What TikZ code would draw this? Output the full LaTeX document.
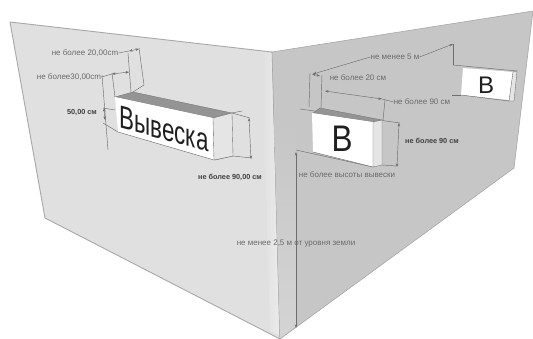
\documentclass[tikz,border=0pt]{standalone}
\usepackage{fontspec}
\setmainfont{Liberation Sans}
\usetikzlibrary{arrows.meta}
\definecolor{wallL}{HTML}{E0E0E0}
\definecolor{wallR}{HTML}{C6C6C6}
\definecolor{wallS}{HTML}{D4D4D4}
\definecolor{edgeC}{HTML}{A8A8A8}
\definecolor{dimC}{HTML}{6E6E6E}
\definecolor{labelC}{HTML}{6A6A6A}
\tikzset{
 wallL/.style={fill=wallL,draw=edgeC,line width=.9pt,line join=round},
 wallR/.style={fill=wallR,draw=edgeC,line width=.6pt,line join=round},
 dimline/.style={draw=dimC,line width=.45pt},
 dimarrow/.style={dimline,{Stealth[length=3.5pt,width=2.6pt]}-{Stealth[length=3.5pt,width=2.6pt]}},
 lab/.style={text=labelC,font=\fontsize{8}{9}\selectfont,inner sep=0pt},
 labdark/.style={text=black!75,font=\fontsize{7.3}{8}\selectfont\bfseries,inner sep=0pt},
 front/.style={fill=white,draw=none},
 side/.style={fill=white!90!black,draw=dimC,line width=.35pt},
 topface/.style={fill=black!42,draw=dimC,line width=.3pt},
 sign/.style={text=black!88,inner sep=0pt}
}
\begin{document}
\begin{tikzpicture}[x=1pt,y=-1pt]
\useasboundingbox (0,0) rectangle (533,339);
% walls
\path[wallL] (10,22) -- (272,52) -- (280,339) -- (45,218) -- cycle;
\shade[left color=wallL,right color=white!92!black] (262,52) -- (272,53) -- (279,335) -- (270,331) -- cycle;
\path[wallR] (272,52) -- (533,11) -- (514,168) -- (280,339) -- cycle;
\shade[top color=wallR,bottom color=wallS] (274,120) -- (296,120) -- (296,326) -- (280,338) -- cycle;
% LEFT SIGN
\draw[dimline] (102,75) -- (108,150);
\draw[dimline] (112,73) -- (115,97);
\draw[dimline] (128,53) -- (131,92);
\draw[dimline] (139,48) -- (144,85) -- (133,92);
\draw[dimline] (103,108) -- (115,110);
\draw[dimline] (103,123) -- (118,132);
\draw[dimline] (232,113) -- (242,111);
\draw[dimline] (232,113) -- (250,118);
\draw[dimline] (215,160) -- (233,156) -- (252,158);
\path[topface] (115,97) -- (133,92) -- (232,113) -- (213,118) -- cycle;
\path[front] (115,97) -- (213,118) -- (214,160) -- (118,132) -- cycle;
\draw[dimC,line width=.45pt] (118,132) -- (214,160);
\path[side] (213,118) -- (232,113) -- (233,156) -- (214,160) -- cycle;
\begin{scope}[shift={(164,129)},cm={.70,-.19,0,1,(0,0)}]
\node[sign,transform shape,font=\fontsize{32}{32}\selectfont] (vyveska) at (0,0) {Вывеска};
\end{scope}
\draw[dimarrow] (129,51) -- (139,49);
\draw[dimarrow] (112,74) -- (129,72);
\draw[dimarrow] (104,108) -- (105,120);
\draw[dimarrow] (249,118) -- (251,159);
\node[lab] (t20) at (85,53) {не более 20,00cm};
\node[lab] (t30) at (69,77) {не более30,00cm};
\node[labdark] (t50) at (82,113) {50,00 см};
\node[labdark] (t90) at (230,177) {не более 90,00 см};
\draw[dimline] (t20.east) -- (129,51);
\draw[dimline] (t30.east) -- (112,74);
% RIGHT SIGN
\draw[dimline] (310,73) -- (309,107);
\draw[dimline] (322,75) -- (321,108);
\draw[dimline] (300,109) -- (400,123);
\draw[dimline] (385,100) -- (383,120);
\draw[dimline] (382,165) -- (397,166);
\draw[dimline] (296,150) -- (373,167);
\path[topface] (313,113) -- (320,108) -- (382,120) -- (373,122) -- cycle;
\path[front] (312,113) -- (373,122) -- (373,167) -- (313,152) -- cycle;
\draw[dimC,line width=.45pt] (313,152) -- (373,167);
\path[side] (373,122) -- (382,120) -- (382,165) -- (373,167) -- cycle;
\node[sign,font=\fontsize{37}{37}\selectfont] (bigB) at (342,139) {\scalebox{.85}[1]{В}};
\draw[dimarrow] (312,74) -- (320,76);
\draw[dimarrow] (325,91) -- (382,99);
\draw[dimarrow] (399,123) -- (397,167);
\draw[dimarrow] (296,152) -- (296,328);
\node[lab] (r20) at (358,78) {не более 20 см};
\node[lab] (r90) at (422,102) {не более 90 см};
\node[labdark] (rb90) at (432,141) {не более 90 см};
\node[lab] (r5) at (395,57) {не менее 5 м};
\node[lab] (rh) at (347,175) {не более высоты вывески};
\node[lab] (r25) at (296,244) {не менее 2,5 м от уровня земли};
\draw[dimline] (r90.west) -- (382,99);
\coordinate (bend) at (453,44);
\draw[dimline,{Stealth[length=3.5pt,width=2.6pt]}-] (313,74) -- (r5.west);
\draw[dimline,{Stealth[length=3.5pt,width=2.6pt]}-] (bend) -- (r5.east);
\draw[dimline] (bend) -- (453,65);
% SMALL SIGN
\draw[dimline] (453,65) -- (517,71);
\draw[dimline] (452,95) -- (461,95);
\path[front] (463,68) -- (513,72) -- (509,100) -- (461,95) -- cycle;
\draw[dimC,line width=.45pt] (461,95) -- (509,101);
\path[side] (513,72) -- (517,71) -- (514,101) -- (509,101) -- cycle;
\node[sign,font=\fontsize{24}{24}\selectfont] (smallB) at (486,85) {В};
\end{tikzpicture}
\end{document}
